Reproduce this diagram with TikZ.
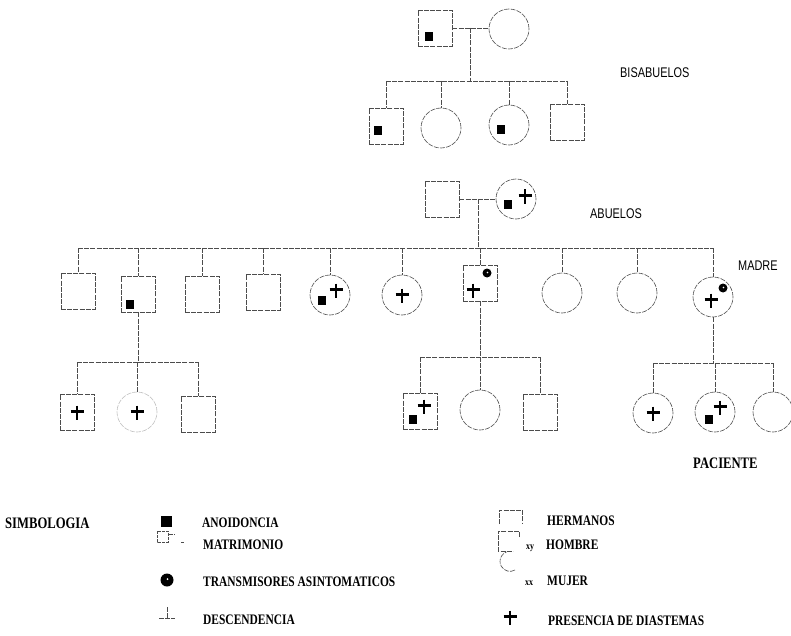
\documentclass[tikz,border=0pt]{standalone}
\usepackage{fontspec}
\setmainfont{Liberation Serif}
\newfontfamily\lsans{Liberation Sans}[FakeStretch=0.78]
\newfontfamily\lser{Liberation Serif}[FakeStretch=0.79]
\begin{document}
\begin{tikzpicture}[x=1pt,y=-1pt,
  ln/.style={draw=black!70, line width=0.6pt, dash pattern=on 5pt off 1.2pt},
  male/.style={ln, rectangle, minimum width=34pt, minimum height=36pt, inner sep=0pt},
  female/.style={ln, circle, minimum size=40pt, inner sep=0pt},
  gen/.style={font=\lsans\fontsize{14}{14}\selectfont, anchor=west, inner sep=0pt},
  leg/.style={font=\lser\bfseries\fontsize{14.5}{14.5}\selectfont, anchor=west, inner sep=0pt},
  legbig/.style={font=\lser\bfseries\fontsize{16}{16}\selectfont, anchor=west, inner sep=0pt},
  small/.style={font=\lser\bfseries\fontsize{10}{10}\selectfont, anchor=west, inner sep=0pt},
  pics/anod/.style={code={\fill (-4,-4.5) rectangle (4,4.5);}},
  pics/cruz/.style={code={\draw[line width=2.1pt] (-6.5,-1.5) -- (6.5,-1.5) (0,-7.5) -- (0,7);}},
  pics/tdot/.style={code={\fill circle (4.5); \fill[white] (0.5,-0.5) circle (0.9);}},
]
\useasboundingbox (0,0) rectangle (791,636);

% ---------- generation 0 ----------
\node[male]   (bm) at (435,28) {};
\node[female] (bf) at (509,29) {};
\pic at (429,37) {anod};
\draw[ln] (bm.east) -- (bm.east -| bf.west);
\coordinate (j0) at (470,28);
\coordinate (s0) at (470,81);
\draw[ln] (j0) -- (s0);
\node[male]   (c1) at (386,126) {};
\node[female] (c2) at (441,128) {};
\node[female] (c3) at (509,125) {};
\node[male]   (c4) at (567,122) {};
\draw[ln] (c1.north |- s0) -- (c4.north |- s0);
\foreach \c in {c1,c2,c3,c4} \draw[ln] (\c.north |- s0) -- (\c.north);
\pic at (378,131) {anod};
\pic at (501,130) {anod};
\node[gen] (lbis) at (620,73) {BISABUELOS};

% ---------- generation 1 ----------
\node[male]   (am) at (442,199) {};
\node[female] (af) at (516,199) {};
\draw[ln] (am.east) -- (af.west);
\pic at (508,205) {anod};
\pic at (525,197) {cruz};
\coordinate (j1) at (478,199);
\coordinate (s1) at (478,248);
\draw[ln] (j1) -- (s1);
\node[gen] (labu) at (590,214) {ABUELOS};

% ---------- generation 2 ----------
\node[male]   (k1)  at (78,291)  {};
\node[male]   (k2)  at (138,294) {};
\node[male]   (k3)  at (202,294) {};
\node[male]   (k4)  at (263,292) {};
\node[female] (k5)  at (330,295) {};
\node[female] (k6)  at (402,295) {};
\node[male]   (k7)  at (480,283) {};
\node[female] (k8)  at (562,293) {};
\node[female] (k9)  at (637,293) {};
\node[female] (k10) at (713,297) {};
\draw[ln] (k1.north |- s1) -- (k10.north |- s1);
\foreach \c in {k1,k2,k3,k4,k5,k6,k7,k8,k9,k10} \draw[ln] (\c.north |- s1) -- (\c.north);
\pic at (130,304) {anod};
\pic at (322,300) {anod};
\pic at (336,291) {cruz};
\pic at (402,296) {cruz};
\pic at (473,291) {cruz};
\pic at (487,273) {tdot};
\pic at (711,301) {cruz};
\pic at (723,288) {tdot};
\node[gen] (lmad) at (738,266) {MADRE};

% ---------- generation 3 ----------
\coordinate (sa) at (138,362);
\coordinate (sb) at (480,357);
\coordinate (sc) at (713,363);
\draw[ln] (k2.south) -- (sa);
\draw[ln] (k7.south) -- (sb);
\draw[ln] (k10.south) -- (sc);

\node[male]   (m1) at (77,412)  {};
\node[female, draw=black!25] (m2) at (137,412) {};
\node[male]   (m3) at (198,414) {};
\draw[ln] (m1.north |- sa) -- (m3.north |- sa);
\foreach \c in {m1,m2,m3} \draw[ln] (\c.north |- sa) -- (\c.north);
\pic at (77,413) {cruz};
\pic at (137,413) {cruz};

\node[male]   (n1) at (420,411) {};
\node[female] (n2) at (480,410) {};
\node[male]   (n3) at (540,412) {};
\draw[ln] (n1.north |- sb) -- (n3.north |- sb);
\foreach \c in {n1,n2,n3} \draw[ln] (\c.north |- sb) -- (\c.north);
\pic at (413,419) {anod};
\pic at (424,407) {cruz};

\node[female] (p1) at (653,413) {};
\node[female] (p2) at (715,412) {};
\node[female] (p3) at (773,412) {};
\draw[ln] (p1.north |- sc) -- (p3.north |- sc);
\foreach \c in {p1,p2,p3} \draw[ln] (\c.north |- sc) -- (\c.north);
\pic at (653,414) {cruz};
\pic at (709,419) {anod};
\pic at (720,408) {cruz};
\node[legbig] (lpac) at (693,463) {PACIENTE};

% ---------- legend ----------
\node[legbig] (lsim) at (5,523) {SIMBOLOGIA};
\fill (161,516) rectangle (172,527);
\node[leg] (lano) at (202,523) {ANOIDONCIA};

\draw[ln, line width=0.5pt, dash pattern=on 3pt off 1pt] (157,531) rectangle (168,542);
\draw[ln, line width=0.5pt] (168,534) -- (175,534);
\draw[ln, line width=0.6pt] (181,542) -- (184,542);
\node[leg] (lmat) at (203,545) {MATRIMONIO};

\fill (167,580) circle (6.5);
\fill[white] (167.5,579) circle (1);
\node[leg] (ltra) at (203,582) {TRANSMISORES ASINTOMATICOS};

\draw[ln, line width=0.5pt] (167,607) -- (167,618);
\draw[ln, line width=0.5pt] (159,618) -- (175,618);
\node[leg] (ldes) at (203,620) {DESCENDENCIA};

\draw[ln, line width=0.6pt] (499,524) -- (499,510) -- (522,510) -- (522,524);
\node[leg] (lher) at (547,521) {HERMANOS};

\draw[ln, line width=0.6pt] (519,537) -- (519,531) -- (498,531) -- (498,551) -- (513,551);
\node[small] (lxy) at (526,548) {xy};
\node[leg] (lhom) at (546,545) {HOMBRE};

\draw[ln, line width=0.6pt] (515,570) arc (60:250:10);
\node[small] (lxx) at (525,583) {xx};
\node[leg] (lmuj) at (547,581) {MUJER};

\pic at (510,618) {cruz};
\node[leg] (lpre) at (548,621) {PRESENCIA DE DIASTEMAS};
\end{tikzpicture}
\end{document}
